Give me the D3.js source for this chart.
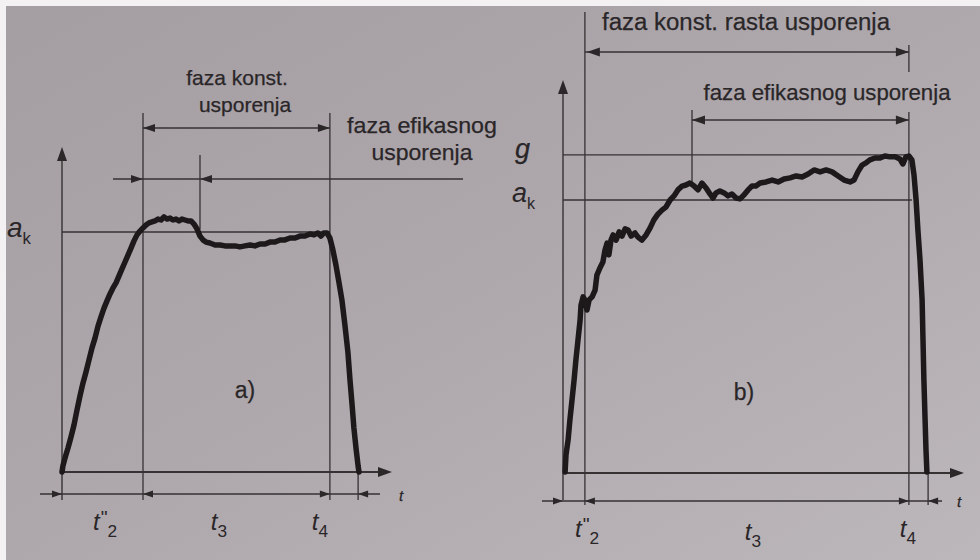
<!DOCTYPE html>
<html><head><meta charset="utf-8">
<script src="https://cdn.jsdelivr.net/npm/d3@7"></script>
<style>body{margin:0;background:#aca6ab}svg{display:block}</style>
</head><body>
<svg id="c" width="980" height="560"></svg>
<script>
// ---------- DATA (t in arbitrary time units, a in % of a_k) ----------
const curveA = [[0,0],[0.3,2.5],[1,5.8],[2,10],[3,14.6],[4,19.6],[5,25.8],[6,31.7],[7,37.1],[8,41.7],
 [9,46.7],[10,51.7],[11,55.8],[12,60.8],[13,64.6],[14,68.3],[15,71.3],[16,74.2],[17,76.7],[18,78.8],
 [19,81.7],[20,84.6],[21,87.5],[22,90.4],[23,93.3],[24,96.3],[25,98.8],[26,100.4],[27,101.7],[28,102.9],
 [29,103.8],[30,104.2],[31,104.6],[32,105.4],[33,105],[34,106.3],[35,105.4],[36,105.8],[37,105],[38,105.4],
 [39,104.6],[40,105.4],[41,105],[42,104.6],[43,104.6],[44,103.3],[45,101.3],[46,98.3],[47,96.7],[48,95.8],
 [49.3,95.4],[51,94.6],[52.7,94.6],[54.3,94.2],[56,94.2],[57.7,94.2],[59.3,93.8],[61,94.2],[62.7,94.6],
 [64.3,94.2],[66,95],[67.7,95],[69.3,95.8],[71,95.8],[72.7,96.7],[74.3,96.7],[76,97.5],[77.7,97.5],
 [79.3,98.3],[81,98.3],[82.7,99.2],[84,98.8],[85.3,99.6],[86.3,98.3],[87.3,99.6],[88.3,99.6],[89.3,97.5],
 [90.3,92.5],[91.3,86.3],[92.3,79.2],[93.3,71.7],[94.3,61.3],[95.3,50],[96,38.3],[96.7,27.9],[97.3,18.3],
 [98,10],[98.7,2.5],[99,0]];
const curveB = [[0.7,0.4],[1,6.6],[1.7,12.1],[2.3,19.4],[3,26.7],[3.7,34.1],[4.3,41.4],[5,48.7],[5.7,56],
 [6,61.5],[6.7,64.5],[7.3,63.4],[8,59.7],[8.7,63.4],[9.7,64.5],[10.7,67],[11.3,72.5],[12.3,75.1],[13.3,77.3],
 [14,81.7],[14.7,84.2],[15.3,79.9],[16,85.3],[16.7,87.2],[17.7,85.3],[18.7,88.3],[19.7,86.8],[20.7,89.4],
 [21.7,89],[22.7,86.8],[24,87.9],[25,86.4],[26.3,85.3],[27.7,87.2],[29,89.7],[30.3,92.7],[31.7,94.9],
 [33,96.3],[34.3,97.4],[35.7,100],[37,101.5],[38.3,103.7],[39.7,105.1],[41,105.5],[42.3,106.2],[43.7,105.1],
 [45,103.7],[46.3,106.2],[47.7,104.4],[49,102.2],[50,100.7],[51,102.6],[52.3,103.3],[53.7,102.6],[55,101.5],
 [56.3,102.2],[57.7,100.7],[59,100.4],[60.3,101.8],[61.7,103.7],[63,105.1],[64.3,105.1],[65.7,106.2],
 [67.7,106.6],[69.7,107.3],[71.7,106.6],[73.7,107.7],[75.7,108.1],[77.7,108.8],[79.7,108.4],[81.7,109.5],
 [83.7,111],[85.7,110.3],[87.7,111],[89.7,110.3],[91.7,108.8],[93.7,107.3],[95.7,106.6],[97,107.3],
 [98.3,110.3],[99.7,112.8],[101,113.6],[102.3,114.7],[104,115.4],[105.7,115.4],[107.3,116.1],[109,115.8],
 [110.7,115.8],[112.3,115],[113.3,113.2],[114.3,115.8],[115.3,116.1],[116.3,114.7],[117,109.2],[117.7,100],
 [118.3,89],[119,78],[119.7,63.4],[120,48.7],[120.3,34.1],[120.7,19.4],[121,8.4],[121.3,0.4]];
// phase boundaries: start, end of t''2, end of t3, end of t4
const phasesA = [0, 27, 89.3, 98.7];
const phasesB = [0, 7.3, 115.3, 121.7];
const efikStartA = 46, efikStartB = 43;
const levelAk = 100, levelGB = 116.5;
const phaseSubs = ["2", "3", "4"];
const panelNames = ["a)", "b)"];

// ---------- SCALES ----------
const xA = d3.scaleLinear().domain([0, 110]).range([62, 392]);
const yA = d3.scaleLinear().domain([0, 100]).range([472, 232]);
const xB = d3.scaleLinear().domain([0, 140]).range([563, 983]);
const yB = d3.scaleLinear().domain([0, 100]).range([473, 200]);

const svg = d3.select('#c');
const defs = svg.append('defs');
const gr = defs.append('linearGradient').attr('id','bg').attr('x1',0).attr('y1',0).attr('x2',1).attr('y2',1);
gr.append('stop').attr('offset',0).attr('stop-color','#a49da2');
gr.append('stop').attr('offset',0.5).attr('stop-color','#aea8ad');
gr.append('stop').attr('offset',1).attr('stop-color','#bcb7bb');
svg.append('rect').attr('width',980).attr('height',560).attr('fill','url(#bg)');
svg.append('rect').attr('width',980).attr('height',6).attr('fill','#f3f1f2');
svg.append('rect').attr('width',6).attr('height',560).attr('fill','#f3f1f2');

const LC = '#363133', TC = '#2a2628', FONT = '"Liberation Sans", Arial, sans-serif';
function ln(g,x1,y1,x2,y2,w){ g.append('line').attr('x1',x1).attr('y1',y1).attr('x2',x2).attr('y2',y2)
  .attr('stroke',LC).attr('stroke-width',w||1.3); }
function tri(g,x,y,dir,len,hw){ len=len||10; hw=hw||3.5; let p;
  if(dir==='r') p=[[x,y],[x-len,y-hw],[x-len,y+hw]];
  else if(dir==='l') p=[[x,y],[x+len,y-hw],[x+len,y+hw]];
  else p=[[x,y],[x-hw,y+len],[x+hw,y+len]];
  g.append('path').attr('d','M'+p.map(q=>q.join(',')).join('L')+'Z').attr('fill','#2b2729'); }
function txt(g,x,y,s,size,anchor,italic){ return g.append('text').attr('x',x).attr('y',y).text(s)
  .attr('font-family',FONT).attr('font-size',size).attr('fill',TC)
  .attr('stroke',TC).attr('stroke-width',0.25)
  .attr('text-anchor',anchor||'middle').attr('font-style',italic?'italic':'normal'); }
function tlabel(g,x,y,sub,dbl,size){
  const t = g.append('text').attr('x',x).attr('y',y).attr('font-family',FONT).attr('fill',TC)
    .attr('font-size',size).attr('font-style','italic').attr('text-anchor','middle');
  t.append('tspan').text('t');
  if(dbl) t.append('tspan').attr('dx',1).attr('dy',-6).attr('font-size',size*0.8).attr('font-style','normal').text('"');
  t.append('tspan').attr('dy',dbl?13:7).attr('font-size',size*0.72).attr('font-style','normal').text(sub);
}
function akLabel(g,x,y,size){
  const t = g.append('text').attr('x',x).attr('y',y).attr('font-family',FONT).attr('fill',TC).attr('font-size',size);
  t.append('tspan').attr('font-style','italic').text('a');
  t.append('tspan').attr('dy',7).attr('font-size',size*0.6).text('k');
}
const lineA = d3.line().x(d=>xA(d[0])).y(d=>yA(d[1]));
const lineB = d3.line().x(d=>xB(d[0])).y(d=>yB(d[1]));

// ---------- PANEL A ----------
const A = svg.append('g');
const dimYA = 494;
ln(A, xA(0), 500, xA(0), 152, 1.4); tri(A, xA(0), 147, 'u', 14, 5);
ln(A, xA(0), yA(0), 382, yA(0), 2); tri(A, 392, yA(0), 'r', 14, 5);
ln(A, 40, dimYA, 380, dimYA, 1.3);
tri(A, xA(phasesA[0]), dimYA, 'r'); tri(A, xA(phasesA[1]), dimYA, 'l');
tri(A, xA(phasesA[2]), dimYA, 'r'); tri(A, xA(phasesA[3]), dimYA, 'l');
ln(A, xA(phasesA[1]), 113, xA(phasesA[1]), 500);
ln(A, xA(phasesA[2]), 113, xA(phasesA[2]), 500);
ln(A, xA(phasesA[3]), 462, xA(phasesA[3]), 500);
ln(A, xA(phasesA[1]), 128, xA(phasesA[2]), 128);
tri(A, xA(phasesA[1]), 128, 'l', 12, 4); tri(A, xA(phasesA[2]), 128, 'r', 12, 4);
ln(A, 113, 179, 463, 179);
tri(A, xA(phasesA[1]), 179, 'r', 12, 4); tri(A, xA(efikStartA), 179, 'l', 12, 4);
ln(A, xA(efikStartA), 155, xA(efikStartA), yA(101));
ln(A, xA(0), yA(levelAk), xA(phasesA[2]), yA(levelAk));
A.append('path').datum(curveA).attr('d', lineA).attr('fill','none').attr('stroke','#1d191b')
 .attr('stroke-width',5.5).attr('stroke-linejoin','round').attr('stroke-linecap','round');
txt(A, 237, 85, 'faza konst.', 21);
txt(A, 245, 112, 'usporenja', 21);
txt(A, 422, 133, 'faza efikasnog', 22).attr('textLength',150).attr('lengthAdjust','spacingAndGlyphs');
txt(A, 422, 160, 'usporenja', 22).attr('textLength',101).attr('lengthAdjust','spacingAndGlyphs');
akLabel(A, 7, 237, 28);
txt(A, 245, 398, panelNames[0], 23);
txt(A, 401, 501, 't', 15, 'middle', true);
tlabel(A, 105, 530, phaseSubs[0], true, 24);
tlabel(A, 219, 530, phaseSubs[1], false, 24);
tlabel(A, 320, 530, phaseSubs[2], false, 24);

// ---------- PANEL B ----------
const B = svg.append('g');
const dimYB = 501;
ln(B, xB(0), 500, xB(0), 85, 1.4); tri(B, xB(0), 80, 'u', 14, 5);
ln(B, xB(0), yB(0), 953, yB(0), 2); tri(B, 964, yB(0), 'r', 14, 5);
ln(B, 542, dimYB, 942, dimYB, 1.3);
tri(B, xB(phasesB[0]), dimYB, 'r'); tri(B, xB(phasesB[1]), dimYB, 'l');
tri(B, xB(phasesB[2]), dimYB, 'r'); tri(B, xB(phasesB[3]), dimYB, 'l');
ln(B, xB(phasesB[1]), 12, xB(phasesB[1]), 505);
ln(B, xB(phasesB[2]), 45, xB(phasesB[2]), 72);
ln(B, xB(phasesB[2]), 112, xB(phasesB[2]), 505);
ln(B, xB(phasesB[3]), 466, xB(phasesB[3]), 505);
ln(B, xB(phasesB[1]), 52, xB(phasesB[2]), 52);
tri(B, xB(phasesB[1])+2, 52, 'l', 13, 4.5); tri(B, xB(phasesB[2]), 52, 'r', 13, 4.5);
ln(B, xB(efikStartB), 120, xB(phasesB[2]), 120);
tri(B, xB(efikStartB), 120, 'l', 13, 4.5); tri(B, xB(phasesB[2]), 120, 'r', 13, 4.5);
ln(B, xB(efikStartB), 110, xB(efikStartB), yB(105));
ln(B, xB(0), yB(levelGB), xB(phasesB[2]), yB(levelGB));
ln(B, xB(0), yB(levelAk), xB(phasesB[2])+3, yB(levelAk));
B.append('path').datum(curveB).attr('d', lineB).attr('fill','none').attr('stroke','#1d191b')
 .attr('stroke-width',5.5).attr('stroke-linejoin','round').attr('stroke-linecap','round');
txt(B, 746, 30, 'faza konst. rasta usporenja', 23).attr('textLength',288).attr('lengthAdjust','spacingAndGlyphs');
txt(B, 827, 100, 'faza efikasnog usporenja', 22).attr('textLength',247).attr('lengthAdjust','spacingAndGlyphs');
txt(B, 515, 158, 'g', 27, 'start', true);
akLabel(B, 512, 202, 27);
txt(B, 744, 400, panelNames[1], 23);
txt(B, 959, 507, 't', 15, 'middle', true);
tlabel(B, 587, 537, phaseSubs[0], true, 24);
tlabel(B, 753, 540, phaseSubs[1], false, 24);
tlabel(B, 908, 537, phaseSubs[2], false, 24);
</script>
</body></html>
